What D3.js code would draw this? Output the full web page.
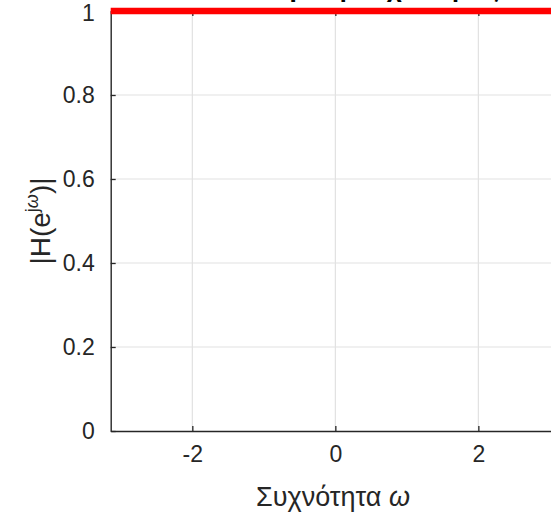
<!DOCTYPE html>
<html>
<head>
<meta charset="utf-8">
<script src="https://cdn.jsdelivr.net/npm/d3@7"></script>
<style>
  html, body { margin: 0; padding: 0; background: #fff; overflow: hidden; }
  text { font-family: "Liberation Sans", Arial, sans-serif; }
</style>
</head>
<body>
<svg id="chart" width="551" height="515"></svg>
<script>
// Data
const omega = [-3.1416, -2, -1, 0, 1, 2, 3.1416];
const magnitude = [1, 1, 1, 1, 1, 1, 1];
const xTicks = [-2, 0, 2];
const yTicks = [0, 0.2, 0.4, 0.6, 0.8, 1];
const xTickLabels = ["-2", "0", "2"];
const yTickLabels = ["0", "0.2", "0.4", "0.6", "0.8", "1"];
const titleText = "Απόκριση συχνότητας";
const xLabel = "Συχνότητα ";
const xLabelSym = "ω";

const svg = d3.select("#chart");
const mLeft = 110.7, mRight = 560, mTop = 11, mBottom = 431;

const x = d3.scaleLinear().domain([-Math.PI, Math.PI]).range([mLeft, mRight]);
const y = d3.scaleLinear().domain([0, 1]).range([mBottom, mTop]);

// grid
svg.append("g").selectAll("line").data(xTicks).join("line")
  .attr("x1", d => x(d)).attr("x2", d => x(d))
  .attr("y1", mTop).attr("y2", mBottom)
  .attr("stroke", "#e1e1e1").attr("stroke-width", 1.2);
svg.append("g").selectAll("line").data(yTicks.filter(d => d > 0 && d < 1)).join("line")
  .attr("x1", mLeft).attr("x2", mRight)
  .attr("y1", d => y(d)).attr("y2", d => y(d))
  .attr("stroke", "#e1e1e1").attr("stroke-width", 1.2);

// axes
const axisColor = "#262626";
const xAxis = svg.append("g").attr("transform", `translate(0,${mBottom})`)
  .call(d3.axisBottom(x).tickValues(xTicks).tickSizeInner(-5).tickSizeOuter(0).tickPadding(15)
    .tickFormat((d, i) => xTickLabels[i]));
const xAxisTop = svg.append("g").attr("transform", `translate(0,${mTop})`)
  .call(d3.axisTop(x).tickValues(xTicks).tickSizeInner(-5).tickSizeOuter(0).tickFormat(""));
const yAxis = svg.append("g").attr("transform", `translate(${mLeft},0)`)
  .call(d3.axisLeft(y).tickValues(yTicks).tickSizeInner(-5).tickSizeOuter(0).tickPadding(16)
    .tickFormat((d, i) => yTickLabels[i]));

[xAxis, xAxisTop, yAxis].forEach(g => {
  g.select(".domain").attr("stroke", axisColor).attr("stroke-width", 1.4);
  g.selectAll(".tick line").attr("stroke", axisColor).attr("stroke-width", 1.3);
  g.selectAll(".tick text").attr("fill", "#262626").style("font-size", "23px")
    .style("font-family", "'Liberation Sans', Arial, sans-serif");
});
xAxis.selectAll(".tick text").attr("dy", "0.71em");
yAxis.selectAll(".tick text").filter((d) => d === 1).attr("dy", "0.4em");

// line
svg.append("path")
  .datum(omega.map((w, i) => [w, magnitude[i]]))
  .attr("fill", "none")
  .attr("stroke", "#ff0000")
  .attr("stroke-width", 6.5)
  .attr("d", d3.line().x(d => x(d[0])).y(d => y(d[1])));

// title (mostly cut off at the top)
svg.append("text")
  .attr("x", 360).attr("y", -3.5)
  .attr("text-anchor", "middle")
  .style("font-size", "26px").style("font-weight", "bold").attr("fill", "#000")
  .text(titleText);

// x label
const xl = svg.append("text")
  .attr("x", 333).attr("y", 506)
  .attr("text-anchor", "middle")
  .style("font-size", "27px").attr("fill", "#262626");
xl.append("tspan").text(xLabel);
xl.append("tspan").style("font-style", "italic").text(xLabelSym);

// y label
const yl = svg.append("text")
  .attr("transform", `translate(50,${(mTop + mBottom) / 2}) rotate(-90)`)
  .attr("text-anchor", "middle")
  .style("font-size", "28px").attr("fill", "#262626");
yl.append("tspan").text("|H(e");
yl.append("tspan").attr("dy", -12).style("font-size", "18px").text("j");
yl.append("tspan").style("font-size", "18px").style("font-style", "italic").text("ω");
yl.append("tspan").attr("dy", 12).text(")|");
</script>
</body>
</html>
